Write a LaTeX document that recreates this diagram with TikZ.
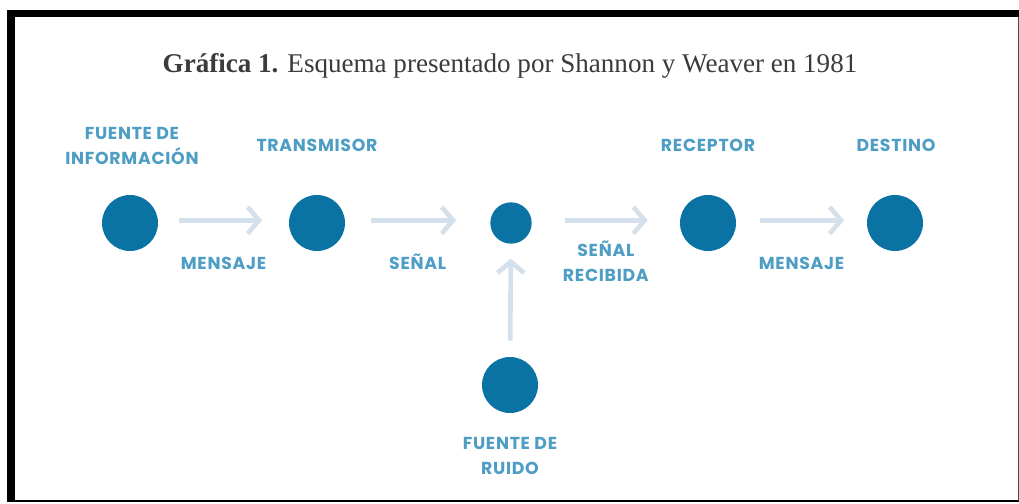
\documentclass[tikz,border=0pt]{standalone}
\usepackage{fontspec}
\usepackage{xcolor}
\setmainfont{Liberation Serif}
\newfontfamily\labelfont[LetterSpace=4]{Poppins}
\usetikzlibrary{positioning, arrows.meta}
\definecolor{dot}{HTML}{0A73A3}
\definecolor{lbl}{HTML}{4E9DC4}
\definecolor{flow}{HTML}{D4E1EC}
\definecolor{ttl}{HTML}{3B3B3B}

\begin{document}
\begin{tikzpicture}[x=0.75pt, y=-0.75pt,
  pt/.style={circle, fill=dot, inner sep=0pt, minimum size=42pt},
  ptsmall/.style={circle, fill=dot, inner sep=0pt, minimum size=31pt},
  lab/.style={font=\labelfont\bfseries\fontsize{13}{18.75}\selectfont, text=lbl, align=center, inner sep=0pt},
  arr/.style={-{Straight Barb[length=8.5pt, width=20pt]}, line width=3.5pt, flow}
]
  \useasboundingbox (0,0) rectangle (1019,503);
  \fill[black] (7,10) rectangle (1019,17.5);
  \fill[black] (7,10) rectangle (15,501);
  \draw[black, line width=1.2pt] (7,500.8) -- (1019,500.8);
  \draw[black!70, line width=0.6pt] (1018.3,17) -- (1018.3,501);

  \node[anchor=base, text=ttl, font=\fontsize{20.3}{23}\selectfont] (title) at (510,72)
    {\textbf{Gráfica 1.} Esquema presentado por Shannon y Weaver en 1981};

  \node[pt] (fuente) at (130,223) {};
  \node[pt] (trans) at (317,223) {};
  \node[ptsmall] (canal) at (511,223) {};
  \node[pt] (recep) at (708,223) {};
  \node[pt] (dest) at (895,223) {};
  \node[pt] (ruido) at (510,385) {};

  \node[lab] (lfuente) at (132,145.5) {FUENTE DE\\INFORMACIÓN};
  \node[lab] (ltrans) at (317,145) {TRANSMISOR};
  \node[lab] (lrecep) at (708,145) {RECEPTOR};
  \node[lab] (ldest) at (896,145) {DESTINO};
  \node[lab] (lruido) at (510,456) {FUENTE DE\\RUIDO};

  \draw[arr, shorten <=15.5pt, shorten >=20pt] ([yshift=2pt]fuente.east) -- ([yshift=2pt]trans.west)
    node[midway, anchor=base, yshift=-36.5pt, lab] (lmens1) {MENSAJE};
  \draw[arr, shorten <=19.5pt, shorten >=25.5pt] ([yshift=2pt]trans.east) -- ([yshift=2pt]canal.west)
    node[midway, anchor=base, yshift=-36.5pt, lab] (lsenal) {SEÑAL};
  \draw[arr, shorten <=25pt, shorten >=24pt] ([yshift=2pt]canal.east) -- ([yshift=2pt]recep.west)
    node[midway, anchor=base, yshift=-45.5pt, lab] (lrecib) {SEÑAL\\RECIBIDA};
  \draw[arr, shorten <=18pt, shorten >=17pt] ([yshift=2pt]recep.east) -- ([yshift=2pt]dest.west)
    node[midway, anchor=base, yshift=-36.5pt, lab] (lmens2) {MENSAJE};
  \draw[arr, shorten <=12pt, shorten >=11pt] (ruido.north) -- (canal.south);
\end{tikzpicture}
\end{document}
